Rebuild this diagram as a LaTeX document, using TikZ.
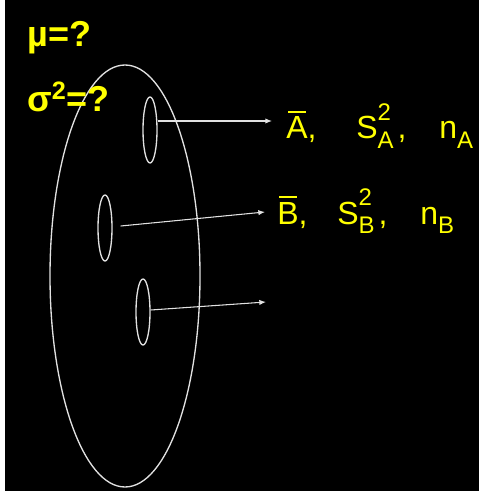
\documentclass[tikz,border=0pt]{standalone}
\usepackage{fontspec}
\setmainfont{Liberation Sans}
\usetikzlibrary{arrows.meta,shapes.geometric}
\definecolor{lbl}{RGB}{255,255,0}
\definecolor{edge}{RGB}{225,225,225}
\definecolor{bg}{RGB}{0,0,0}
\newcommand{\subfont}{\fontsize{18}{18}\selectfont}
\newcommand{\supsub}[2]{\rlap{\raisebox{13.5pt}{\subfont#1}}\raisebox{-7pt}{\subfont#2}}
\newcommand{\lowsub}[1]{\raisebox{-7pt}{\subfont#1}}
\newcommand{\barred}[1]{\setbox0\hbox{#1}\rlap{\hspace{1.5pt}\rule[\dimexpr\ht0+3pt\relax]{\dimexpr\wd0-3pt\relax}{1.3pt}}\box0}
\tikzset{
  popn/.style={draw=edge,ellipse,inner sep=0pt,line width=1pt,minimum width=112.5pt,minimum height=316.5pt},
  smp/.style={draw=edge,ellipse,inner sep=0pt,line width=1pt,minimum width=10.5pt,minimum height=49.5pt},
  flow/.style={-{Latex[length=5pt,width=4pt]},edge,line width=0.8pt},
  lab/.style={text=lbl,font=\fontsize{24}{28}\selectfont,anchor=base west,inner sep=0pt},
  quest/.style={text=lbl,font=\fontsize{27}{30}\selectfont\bfseries,anchor=base west,inner sep=0pt},
}
\begin{document}
\begin{tikzpicture}[x=0.75pt,y=-0.75pt]
\useasboundingbox (0,0) rectangle (479,491);
\fill[white] (0,0) rectangle (479,491);
\fill[bg] (5,0) rectangle (479,491);
% ---- population and samples ----
\node[popn] (pop) at (125,276) {};
\node[smp] (s1) at (150,130) {};
\node[smp] (s2) at (105,228) {};
\node[smp] (s3) at (143,312) {};
\coordinate (a1) at (272,121);
\coordinate (a2) at (265,212);
\coordinate (a3) at (266,302);
\draw[flow] (s1.east |- a1) -- (a1);
\draw[flow] ([xshift=6pt,yshift=1.5pt]s2.east) -- (a2);
\draw[flow] ([yshift=1.5pt]s3.east) -- (a3);
% ---- unknown parameters ----
\node[quest] (mu) at (27,47) {µ=?};
\node[quest] (sig) at (27,112) {σ\textsuperscript{2}=?};
% ---- sample statistics ----
\node[lab] (mA) at (286,139) {\barred{A},};
\node[lab] (vA) at (356,139) {S\supsub{2}{A}\hspace{3pt},};
\node[lab] (nA) at (439,139) {n\lowsub{A}};
\node[lab] (mB) at (277,224) {\barred{B},};
\node[lab] (vB) at (337,224) {S\supsub{2}{B}\hspace{3pt},};
\node[lab] (nB) at (420,224) {n\lowsub{B}};
\end{tikzpicture}
\end{document}
